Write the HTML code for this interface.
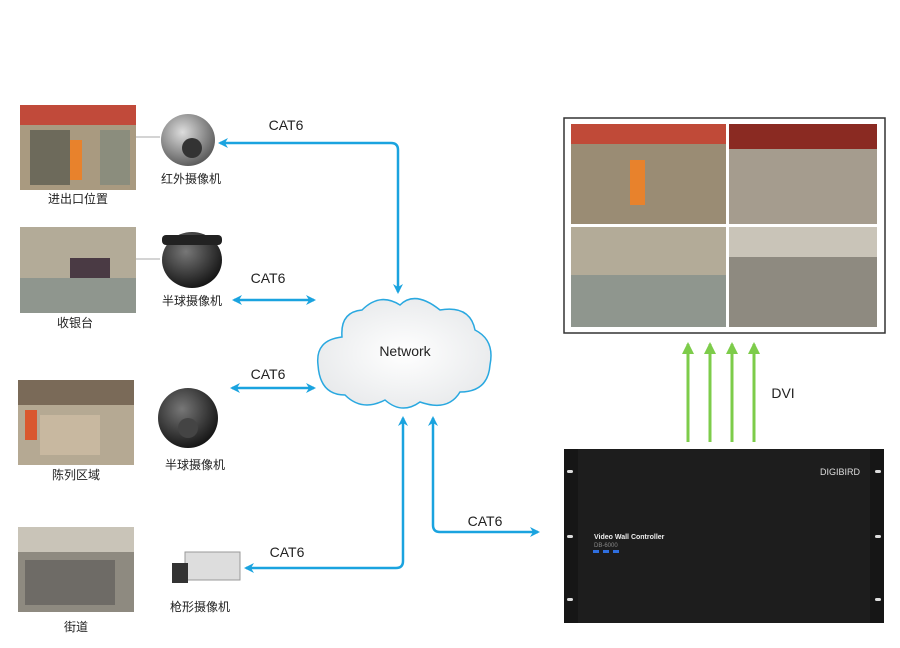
<!DOCTYPE html>
<html><head><meta charset="utf-8"><style>
body{margin:0;background:#fff;width:900px;height:643px;overflow:hidden;font-family:"Liberation Sans","Noto Sans CJK SC",sans-serif}
</style></head><body>
<svg width="900" height="643" viewBox="0 0 900 643" xmlns="http://www.w3.org/2000/svg" font-family="Liberation Sans, Noto Sans CJK SC, sans-serif">
<defs>
<marker id="ah" markerWidth="10" markerHeight="10" refX="8" refY="5" orient="auto" markerUnits="userSpaceOnUse"><path d="M0,0 L10,5 L0,10 L3,5 z" fill="#1aa3df"/></marker>
<marker id="ahs" markerWidth="10" markerHeight="10" refX="2" refY="5" orient="auto" markerUnits="userSpaceOnUse"><path d="M10,0 L0,5 L10,10 L7,5 z" fill="#1aa3df"/></marker>
<marker id="ag" markerWidth="12" markerHeight="12" refX="10" refY="6" orient="auto" markerUnits="userSpaceOnUse"><path d="M0,0 L12,6 L0,12 z" fill="#7dcc4a"/></marker>
<radialGradient id="cg" cx="50%" cy="50%" r="60%"><stop offset="0" stop-color="#fff"/><stop offset="1" stop-color="#e6e8ea"/></radialGradient>
<radialGradient id="dome" cx="40%" cy="35%" r="70%"><stop offset="0" stop-color="#777"/><stop offset="1" stop-color="#111"/></radialGradient>
<radialGradient id="dome1" cx="40%" cy="35%" r="70%"><stop offset="0" stop-color="#ddd"/><stop offset="1" stop-color="#555"/></radialGradient>
</defs>

<rect x="20" y="105" width="116" height="85" fill="#a99a80"/>
<rect x="20" y="105" width="116" height="20" fill="#c14a3a"/>
<rect x="30" y="130" width="40" height="55" fill="#6d6a5b"/><rect x="70" y="140" width="12" height="40" fill="#e8822c"/><rect x="100" y="130" width="30" height="55" fill="#8b8d7d"/>
<rect x="20" y="227" width="116" height="86" fill="#b3ab98"/>
<rect x="20" y="278" width="116" height="35" fill="#8f968e"/><rect x="70" y="258" width="40" height="20" fill="#4a3a44"/>
<rect x="18" y="380" width="116" height="85" fill="#b5a993"/>
<rect x="18" y="380" width="116" height="25" fill="#7a6a58"/><rect x="40" y="415" width="60" height="40" fill="#c8b8a0"/><rect x="25" y="410" width="12" height="30" fill="#d9572e"/>
<rect x="18" y="527" width="116" height="85" fill="#8e8a80"/>
<rect x="18" y="527" width="116" height="25" fill="#c9c4b8"/><rect x="25" y="560" width="90" height="45" fill="#6e6b66"/>
<line x1="136" y1="137" x2="160" y2="137" stroke="#aaa"/>
<line x1="136" y1="259" x2="160" y2="259" stroke="#aaa"/>

<g font-size="12" fill="#222" text-anchor="middle">
<text x="78" y="203">进出口位置</text>
<text x="75" y="327">收银台</text>
<text x="76" y="479">陈列区域</text>
<text x="76" y="631">街道</text>
<text x="191" y="183">红外摄像机</text>
<text x="192" y="305">半球摄像机</text>
<text x="195" y="469">半球摄像机</text>
<text x="200" y="611">枪形摄像机</text>
</g>

<ellipse cx="188" cy="140" rx="27" ry="26" fill="url(#dome1)"/><circle cx="192" cy="148" r="10" fill="#333"/>
<ellipse cx="192" cy="260" rx="30" ry="28" fill="url(#dome)"/><rect x="162" y="235" width="60" height="10" rx="4" fill="#222"/>
<ellipse cx="188" cy="418" rx="30" ry="30" fill="url(#dome)"/><circle cx="188" cy="428" r="10" fill="#444"/>
<rect x="185" y="552" width="55" height="28" fill="#ddd" stroke="#999"/><rect x="172" y="563" width="16" height="20" fill="#333"/>

<g stroke="#1aa3df" stroke-width="2.5" fill="none">
<path d="M398,292 V150 Q398,143 391,143 H220" marker-start="url(#ahs)" marker-end="url(#ah)"/>
<line x1="234" y1="300" x2="314" y2="300" marker-start="url(#ahs)" marker-end="url(#ah)"/>
<line x1="232" y1="388" x2="314" y2="388" marker-start="url(#ahs)" marker-end="url(#ah)"/>
<path d="M403,418 V561 Q403,568 396,568 H246" marker-start="url(#ahs)" marker-end="url(#ah)"/>
<path d="M433,418 V525 Q433,532 440,532 H538" marker-start="url(#ahs)" marker-end="url(#ah)"/>
</g>
<g font-size="14" fill="#222" text-anchor="middle">
<text x="286" y="130">CAT6</text>
<text x="268" y="283">CAT6</text>
<text x="268" y="379">CAT6</text>
<text x="287" y="557">CAT6</text>
<text x="485" y="526">CAT6</text>
<text x="783" y="398">DVI</text>
</g>

<path d="M345,395 Q320,395 318,365 Q315,340 342,337 Q340,312 362,310 Q380,292 400,305 Q415,290 440,310 Q470,305 475,330 Q495,340 490,365 Q488,392 460,392 Q448,412 420,402 Q402,415 385,400 Q362,412 345,395 z" fill="url(#cg)" stroke="#29a8e0" stroke-width="1.5"/>
<text x="405" y="356" font-size="14" fill="#222" text-anchor="middle">Network</text>

<rect x="564" y="118" width="321" height="215" fill="#fff" stroke="#333" stroke-width="1.5"/>
<rect x="571" y="124" width="155" height="100" fill="#9a8c74"/><rect x="571" y="124" width="155" height="20" fill="#c04a38"/><rect x="630" y="160" width="15" height="45" fill="#e8822c"/>
<rect x="729" y="124" width="148" height="100" fill="#a59c8e"/><rect x="729" y="124" width="148" height="25" fill="#8a2a22"/>
<rect x="571" y="227" width="155" height="100" fill="#b3ab98"/><rect x="571" y="275" width="155" height="52" fill="#8f968e"/>
<rect x="729" y="227" width="148" height="100" fill="#8e8a80"/><rect x="729" y="227" width="148" height="30" fill="#c9c4b8"/>

<g stroke="#7dcc4a" stroke-width="3">
<line x1="688" y1="442" x2="688" y2="344" marker-end="url(#ag)"/>
<line x1="710" y1="442" x2="710" y2="344" marker-end="url(#ag)"/>
<line x1="732" y1="442" x2="732" y2="344" marker-end="url(#ag)"/>
<line x1="754" y1="442" x2="754" y2="344" marker-end="url(#ag)"/>
</g>

<rect x="564" y="449" width="320" height="174" fill="#161616"/>
<rect x="578" y="449" width="292" height="174" fill="#1d1d1d"/>
<g fill="#ddd"><rect x="567" y="470" width="6" height="3" rx="1.5"/><rect x="567" y="535" width="6" height="3" rx="1.5"/><rect x="567" y="598" width="6" height="3" rx="1.5"/>
<rect x="875" y="470" width="6" height="3" rx="1.5"/><rect x="875" y="535" width="6" height="3" rx="1.5"/><rect x="875" y="598" width="6" height="3" rx="1.5"/></g>
<text x="820" y="475" font-size="9" fill="#ddd">DIGIBIRD</text>
<text x="594" y="539" font-size="7" font-weight="bold" fill="#eee">Video Wall Controller</text>
<text x="594" y="547" font-size="6" fill="#888">DB-6000</text>
<g fill="#2f6fe0"><rect x="593" y="550" width="6" height="3"/><rect x="603" y="550" width="6" height="3"/><rect x="613" y="550" width="6" height="3"/></g>
</svg>
</body></html>
